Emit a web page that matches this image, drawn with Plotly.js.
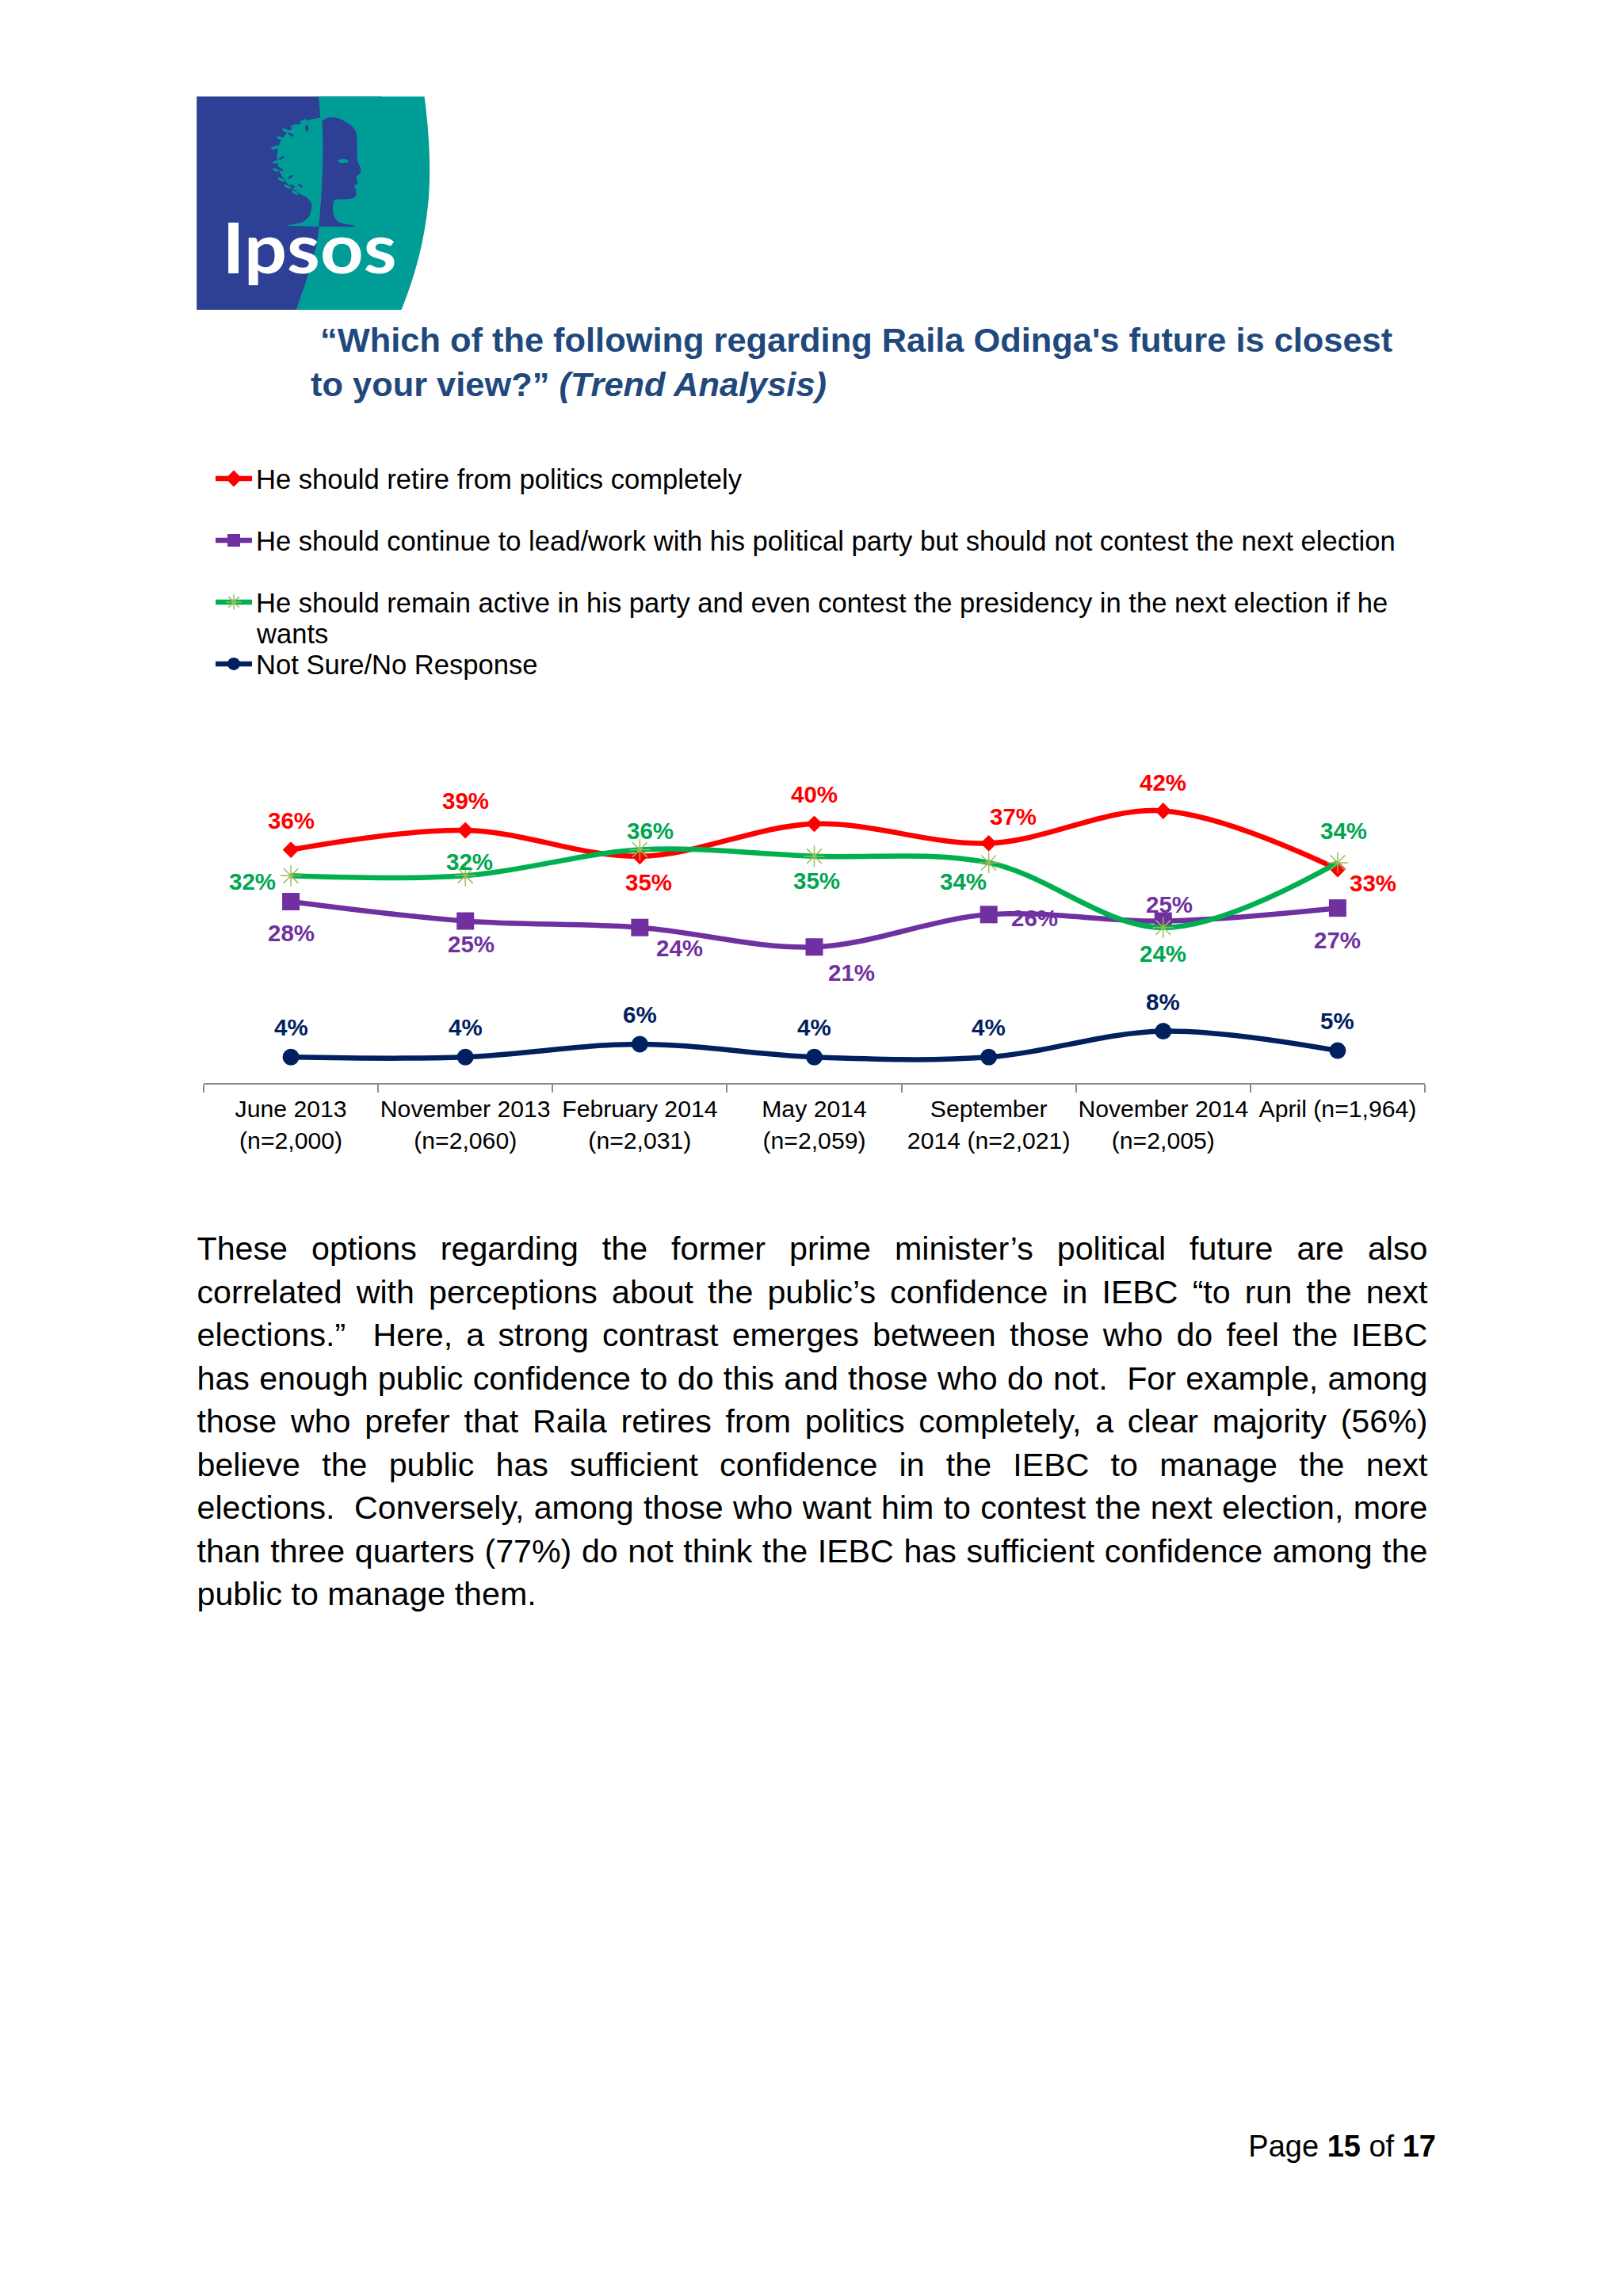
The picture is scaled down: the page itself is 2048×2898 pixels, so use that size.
<!DOCTYPE html>
<html>
<head>
<meta charset="utf-8">
<script src="https://cdn.plot.ly/plotly-3.0.1.min.js"></script>
<style>
html,body{margin:0;padding:0;background:#fff;width:2048px;height:2898px;overflow:hidden}
#page{position:relative;width:2048px;height:2898px}
#chart{position:absolute;left:0;top:0;width:2048px;height:2898px}
#logo{position:absolute;left:240px;top:115px;width:310px;height:285px}
#body{position:absolute;left:248.5px;top:1549px;width:1553px;font:41.2px "Liberation Sans",Arial,sans-serif;color:#000;line-height:54.5px}
#body div{text-align:justify;text-align-last:justify;height:54.5px;white-space:normal}
#body div:last-child{text-align-last:left}
#foot{position:absolute;right:236px;top:2688px;font:38px "Liberation Sans",Arial,sans-serif;color:#000;white-space:pre}
</style>
</head>
<body>
<div id="page">
<div id="chart"></div>
<svg id="logo" viewBox="0 0 927 855" xmlns="http://www.w3.org/2000/svg">
  <rect x="23" y="20" width="700" height="808" fill="#2E4095"/>
  <path d="M485,20 L885,20 C905,170 910,300 900,420 C885,570 850,700 798,828 L400,828 C440,710 478,610 487,512 C500,380 505,250 485,20 Z" fill="#009C96"/>
  <path d="M500,100 C450,104 395,125 358,165 C335,190 325,225 328,260 C330,310 360,365 440,402 L458,425 C460,460 450,485 420,497 C400,503 375,505 360,510 L487,513 C497,400 505,250 500,100 Z" fill="#009C96"/>
  <g fill="#009C96">
    <ellipse cx="322" cy="213" rx="18" ry="6" transform="rotate(-15 322 213)"/>
    <ellipse cx="342" cy="180" rx="16" ry="6" transform="rotate(25 342 180)"/>
    <ellipse cx="362" cy="150" rx="16" ry="6" transform="rotate(25 362 150)"/>
    <ellipse cx="392" cy="132" rx="14" ry="5" transform="rotate(-20 392 132)"/>
    <ellipse cx="428" cy="113" rx="14" ry="5" transform="rotate(-20 428 113)"/>
    <ellipse cx="322" cy="268" rx="12" ry="5" transform="rotate(-20 322 268)"/>
    <ellipse cx="322" cy="298" rx="12" ry="5" transform="rotate(20 322 298)"/>
    <ellipse cx="342" cy="335" rx="14" ry="5" transform="rotate(30 342 335)"/>
    <ellipse cx="366" cy="362" rx="14" ry="5" transform="rotate(30 366 362)"/>
    <ellipse cx="395" cy="385" rx="14" ry="5" transform="rotate(30 395 385)"/>
  </g>
  <g fill="#2E4095">
    <ellipse cx="440" cy="140" rx="6" ry="12"/>
    <ellipse cx="380" cy="165" rx="12" ry="4" transform="rotate(30 380 165)"/>
    <ellipse cx="345" cy="253" rx="12" ry="4" transform="rotate(-30 345 253)"/>
    <ellipse cx="340" cy="295" rx="12" ry="4" transform="rotate(30 340 295)"/>
    <ellipse cx="378" cy="325" rx="12" ry="4" transform="rotate(-30 378 325)"/>
    <ellipse cx="415" cy="358" rx="10" ry="4" transform="rotate(40 415 358)"/>
    <ellipse cx="385" cy="360" rx="10" ry="4" transform="rotate(30 385 360)"/>
  </g>
  <path d="M498,112 C520,92 560,95 590,118 C615,135 628,145 630,180 C632,215 628,240 632,262 C636,280 648,295 645,305 C640,318 625,320 628,330 C632,342 636,345 630,352 C622,358 615,358 625,372 C630,385 628,395 620,403 C600,412 565,408 545,412 C535,440 535,470 555,492 C570,503 600,505 625,510 L620,514 L485,513 C497,400 505,250 498,112 Z" fill="#2E4095"/>
  <ellipse cx="578" cy="265" rx="20" ry="8" fill="#009C96"/>
  <text x="120" y="690" font-family="Lato,'Open Sans',sans-serif" font-weight="700" font-size="262" fill="#fff" textLength="660" lengthAdjust="spacingAndGlyphs">Ipsos</text>
</svg>
<div id="body"></div>
<div id="foot">Page <b>15</b> of <b>17</b></div>
</div>
<script>
var categories = ["June 2013<br>(n=2,000)","November 2013<br>(n=2,060)","February 2014<br>(n=2,031)","May 2014<br>(n=2,059)","September<br>2014 (n=2,021)","November 2014<br>(n=2,005)","April (n=1,964)"];
var retire = [36,39,35,40,37,42,33];
var continueLead = [28,25,24,21,26,25,27];
var remainActive = [32,32,36,35,34,24,34];
var notSure = [4,4,6,4,4,8,5];
var nameRetire = "He should retire from politics completely";
var nameContinue = "He should continue to lead/work with his political party but should not contest the next election";
var nameRemain = "He should remain active in his party and even contest the presidency in the next election if he";
var nameRemainWrap = "wants";
var nameNotSure = "Not Sure/No Response";
var titleText = "\u200B\u00A0\u201CWhich of the following regarding Raila Odinga's future is closest<br>to your view?\u201D <i>(Trend Analysis)</i>";
var bodyLines = [
 "These options regarding the former prime minister\u2019s political future are also",
 "correlated with perceptions about the public\u2019s confidence in IEBC \u201Cto run the next",
 "elections.\u201D\u00A0 Here, a strong contrast emerges between those who do feel the IEBC",
 "has enough public confidence to do this and those who do not.\u00A0 For example, among",
 "those who prefer that Raila retires from politics completely, a clear majority (56%)",
 "believe the public has sufficient confidence in the IEBC to manage the next",
 "elections.\u00A0 Conversely, among those who want him to contest the next election, more",
 "than three quarters (77%) do not think the IEBC has sufficient confidence among the",
 "public to manage them."
];

// data-label offsets in pixels from each point: [dx, dy down]
var offRetire = [[0,-37],[0,-38],[11,33],[0,-37],[31,-34],[0,-36],[45,17]];
var offContinue = [[0,40],[7,29],[50,26],[47,32],[58,4],[8,-21],[0,40]];
var offRemain = [[-49,7],[5,-18],[13,-24],[3,31],[-32,24],[0,33],[8,-40]];
var offNotSure = [[0,-38],[0,-38],[0,-37],[0,-38],[0,-38],[0,-37],[0,-38]];

var RED="#FF0000",PURPLE="#7030A0",GREEN="#00B050",NAVY="#002060";
var W=2048,H=2898;
function px(x){return x/W;}
function py(y){return 1-y/H;}

function series(name,vals,color,marker){
  return {type:"scatter",mode:"lines+markers",x:categories,y:vals,name:name,legendgroup:name,
    line:{color:color,width:6.5,shape:"spline",smoothing:1},marker:marker,cliponaxis:false,hoverinfo:"skip"};
}
var traces=[
  series(nameRetire,retire,RED,{symbol:"diamond",size:16,color:RED}),
  series(nameContinue,continueLead,PURPLE,{symbol:"square",size:22,color:PURPLE}),
  series(nameRemain,remainActive,GREEN,{symbol:"asterisk-open",size:22,color:"#9BBB59",line:{color:"#9BBB59",width:1.5}}),
  series(nameNotSure,notSure,NAVY,{symbol:"circle",size:21,color:NAVY})
];
var annotations=[];
function addLabels(vals,offs,color){
  vals.forEach(function(v,i){
    annotations.push({x:i,y:v,xref:"x",yref:"y",text:v+"%",showarrow:false,xanchor:"center",yanchor:"middle",
      xshift:offs[i][0],yshift:-offs[i][1],font:{family:"Liberation Sans",size:29.5,color:color,weight:"bold"}});
  });
}
addLabels(retire,offRetire,RED);
addLabels(continueLead,offContinue,PURPLE);
addLabels(remainActive,offRemain,"#00A650");
addLabels(notSure,offNotSure,NAVY);
annotations.push({xref:"paper",yref:"paper",x:px(321),y:py(800),text:nameRemainWrap,showarrow:false,xanchor:"left",yanchor:"middle",
  font:{family:"Liberation Sans",size:34.6,color:"#000"}});

var legendFont={family:"Liberation Sans",size:34.6,color:"#000"};
var layout={
  width:W,height:H,margin:{l:0,r:0,t:0,b:0},paper_bgcolor:"#fff",plot_bgcolor:"rgba(0,0,0,0)",
  font:{family:"Liberation Sans",color:"#000"},
  title:{text:titleText,x:px(392),xref:"paper",xanchor:"left",y:py(444),yref:"paper",yanchor:"top",
    font:{family:"Liberation Sans",size:43.4,color:"#1F497D",weight:"bold"}},
  xaxis:{type:"category",domain:[px(257),px(1798)],range:[-0.5,6.5],showline:true,linecolor:"#8C8C8C",linewidth:2,
    ticks:"outside",tickson:"boundaries",ticklen:10,tickwidth:1.5,tickcolor:"#8C8C8C",showgrid:false,zeroline:false,
    tickangle:0,ticklabelstandoff:5,tickfont:{family:"Liberation Sans",size:30.2,color:"#000"},fixedrange:true},
  yaxis:{domain:[py(1367),py(974.4)],range:[0,48],visible:false,fixedrange:true},
  showlegend:true,
  legend:{x:px(267),y:py(575),xanchor:"left",yanchor:"top",bgcolor:"rgba(0,0,0,0)",font:legendFont,itemwidth:46,
    tracegroupgap:30,traceorder:"grouped",itemclick:false,itemdoubleclick:false},
  annotations:annotations
};
Plotly.newPlot("chart",traces,layout,{displayModeBar:false,responsive:false});

var b=document.getElementById("body");
bodyLines.forEach(function(t){var d=document.createElement("div");d.textContent=t;b.appendChild(d);});
</script>
</body>
</html>
